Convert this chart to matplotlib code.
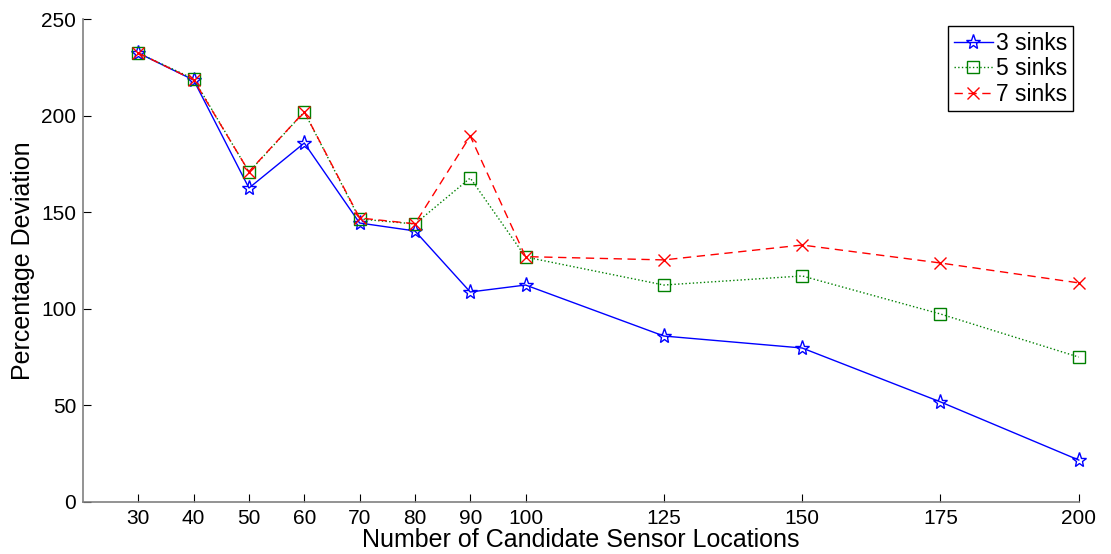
import matplotlib.pyplot as plt

plt.rcParams['font.family'] = ['Liberation Sans', 'DejaVu Sans']

# candidate sensor locations and percentage deviation per sink count
locations = [30, 40, 50, 60, 70, 80, 90, 100, 125, 150, 175, 200]
dev_3_sinks = [232.4, 218.4, 162.5, 185.8, 144.4, 140.3, 108.7, 112.3, 85.9, 79.7, 51.8, 21.7]
dev_5_sinks = [232.4, 219.0, 170.8, 201.9, 146.5, 143.9, 167.7, 126.8, 112.3, 117.0, 97.3, 75.0]
dev_7_sinks = [232.4, 218.5, 171.0, 202.0, 147.0, 144.0, 189.4, 127.0, 125.3, 133.0, 123.7, 113.4]
y_ticks = [0, 50, 100, 150, 200, 250]

fig = plt.figure(figsize=(11.11, 5.54), dpi=100)
ax = fig.add_axes([0.0747, 0.0939, 0.8963, 0.8718])

ax.plot(locations, dev_3_sinks, color='blue', linestyle='-', linewidth=1,
        marker='*', markersize=11, markerfacecolor='none', markeredgewidth=1,
        label='3 sinks', clip_on=False)
ax.plot(locations, dev_5_sinks, color='green', linestyle=':', linewidth=1,
        marker='s', markersize=8, markerfacecolor='none', markeredgewidth=1,
        label='5 sinks', clip_on=False)
ax.plot(locations, dev_7_sinks, color='red', linestyle='--', linewidth=1,
        dashes=(6, 4), marker='x', markersize=8, markeredgewidth=1,
        label='7 sinks', clip_on=False)

ax.set_xlim(20, 200)
ax.set_ylim(0, 250)
ax.set_xticks(locations)
ax.set_yticks(y_ticks)
ax.tick_params(direction='in', length=6, labelsize=15, colors='black', pad=5)

for side in ['top', 'right']:
    ax.spines[side].set_visible(False)
for side in ['left', 'bottom']:
    ax.spines[side].set_color('gray')
    ax.spines[side].set_linewidth(1.2)

ax.set_xlabel('Number of Candidate Sensor Locations', fontsize=18, labelpad=0)
ax.set_ylabel('Percentage Deviation', fontsize=18, labelpad=4)

leg = ax.legend(loc='upper right', bbox_to_anchor=(0.9945, 0.985), fontsize=16.5,
                fancybox=False, framealpha=1, edgecolor='black',
                handlelength=1.7, handletextpad=0.15, borderpad=0.25,
                labelspacing=0.1, borderaxespad=0)
leg.get_frame().set_linewidth(1)

fig.savefig('out.png', dpi=100)
